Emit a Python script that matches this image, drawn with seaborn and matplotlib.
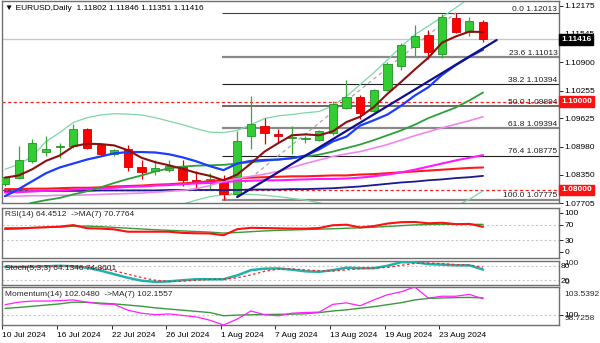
import matplotlib
matplotlib.use("Agg")
import matplotlib.pyplot as plt
import matplotlib.transforms as mtransforms
import numpy as np
import pandas as pd
import seaborn as sns

sns.set_style("white")
plt.rcParams['font.family'] = ['Liberation Sans', 'DejaVu Sans']

# ---------------- data ----------------
date_labels = ["10 Jul 2024", "16 Jul 2024", "22 Jul 2024", "26 Jul 2024", "1 Aug 2024",
               "7 Aug 2024", "13 Aug 2024", "19 Aug 2024", "23 Aug 2024"]
label_bars = [0, 4, 8, 12, 16, 20, 24, 28, 32]

opens = [1.0813, 1.0828, 1.0866, 1.0886, 1.0897, 1.0899, 1.0939, 1.0902, 1.0882, 1.0892,
         1.0853, 1.0843, 1.0845, 1.0854, 1.0822, 1.0815, 1.0824, 1.0790, 1.0922, 1.0946,
         1.0928, 1.0917, 1.0915, 1.0913, 1.0930, 1.0986, 1.1011, 1.0979, 1.1027, 1.1081,
         1.1125, 1.1152, 1.1108, 1.1189, 1.1159, 1.11802]
highs = [1.0832, 1.0899, 1.0916, 1.0922, 1.0907, 1.0950, 1.0941, 1.0905, 1.0893, 1.0901,
         1.0869, 1.0869, 1.0867, 1.0869, 1.0843, 1.0839, 1.0833, 1.0933, 1.1012, 1.0964,
         1.0939, 1.0945, 1.0922, 1.0935, 1.1001, 1.1050, 1.1015, 1.1030, 1.1089, 1.1133,
         1.1174, 1.1163, 1.1199, 1.12013, 1.1193, 1.11846]
lows = [1.0808, 1.0824, 1.0862, 1.0877, 1.0873, 1.0895, 1.0893, 1.0880, 1.0876, 1.0843,
        1.0826, 1.0835, 1.0840, 1.0809, 1.0803, 1.0802, 1.07775, 1.0784, 1.0892, 1.0905,
        1.0907, 1.0881, 1.0907, 1.0910, 1.0925, 1.0984, 1.0962, 1.0976, 1.1025, 1.1073,
        1.1104, 1.1097, 1.1100, 1.1155, 1.1150, 1.11351]
closes = [1.0829, 1.0868, 1.0907, 1.0893, 1.0899, 1.0939, 1.0896, 1.0882, 1.0890, 1.0853,
          1.0840, 1.0849, 1.0854, 1.0822, 1.0817, 1.0826, 1.0790, 1.0911, 1.0950, 1.0930,
          1.0922, 1.0920, 1.0918, 1.0933, 1.0994, 1.1010, 1.0975, 1.1027, 1.1085, 1.1129,
          1.1149, 1.1112, 1.1193, 1.1159, 1.1184, 1.11416]

ma_maroon = [1.0828, 1.0833, 1.0847, 1.0866, 1.0878, 1.0899, 1.0905, 1.0904, 1.0901, 1.0890,
             1.0873, 1.0863, 1.0856, 1.0848, 1.0839, 1.0832, 1.0822, 1.0835, 1.0860, 1.0887,
             1.0906, 1.0924, 1.0926, 1.0924, 1.0933, 1.0954, 1.0966, 1.0988, 1.1018, 1.1045,
             1.1073, 1.1100, 1.1134, 1.1148, 1.1159, 1.1158]
ma_blue = [1.0786, 1.0802, 1.0820, 1.0838, 1.0851, 1.0860, 1.0869, 1.0876, 1.0883, 1.0886,
           1.0886, 1.0885, 1.0881, 1.0874, 1.0865, 1.0854, 1.0845, 1.0860, 1.0866, 1.0868,
           1.0869, 1.0872, 1.0878, 1.0892, 1.0910, 1.0921, 1.0946, 1.0958, 1.0971, 1.0991,
           1.1014, 1.1033, 1.1061, 1.1083, 1.1102, 1.1118]
ma_green = [1.0752, 1.0762, 1.0771, 1.0777, 1.0782, 1.0790, 1.0797, 1.0806, 1.0816, 1.0825,
            1.0833, 1.0842, 1.0849, 1.0853, 1.0855, 1.0856, 1.0857, 1.0860, 1.0863, 1.0866,
            1.0869, 1.0872, 1.0876, 1.0880, 1.0887, 1.0895, 1.0903, 1.0913, 1.0924, 1.0935,
            1.0948, 1.0963, 1.0975, 1.0987, 1.1003, 1.1021]
ma_orchid = [1.0786, 1.0786, 1.0787, 1.0787, 1.0788, 1.0788, 1.0789, 1.0790, 1.0791, 1.0792,
             1.0793, 1.0795, 1.0797, 1.0799, 1.0803, 1.0810, 1.0820, 1.0826, 1.0831, 1.0836,
             1.0842, 1.0851, 1.0860, 1.0868, 1.0876, 1.0882, 1.0887, 1.0895, 1.0903, 1.0913,
             1.0923, 1.0932, 1.0941, 1.0949, 1.0957, 1.0966]
ma_magenta = [1.0794, 1.0795, 1.0797, 1.0798, 1.0799, 1.0801, 1.0802, 1.0804, 1.0805, 1.0807,
              1.0808, 1.0810, 1.0811, 1.0813, 1.0815, 1.0816, 1.0818, 1.0820, 1.0821, 1.0822,
              1.0822, 1.0823, 1.0824, 1.0825, 1.0825, 1.0826, 1.0828, 1.0831, 1.0835, 1.0840,
              1.0846, 1.0853, 1.0860, 1.0867, 1.0873, 1.0879]
ma_red = [1.0802, 1.0802, 1.0803, 1.0803, 1.0804, 1.0805, 1.0805, 1.0806, 1.0808, 1.0809,
          1.0810, 1.0812, 1.0813, 1.0815, 1.0817, 1.0820, 1.0823, 1.0827, 1.0828, 1.0829,
          1.0830, 1.0831, 1.0831, 1.0832, 1.0833, 1.0833, 1.0835, 1.0836, 1.0838, 1.0840,
          1.0842, 1.0844, 1.0846, 1.0848, 1.0850, 1.0851]
ma_navy = [1.0797, 1.0797, 1.0797, 1.0798, 1.0798, 1.0798, 1.0798, 1.0799, 1.0799, 1.0799,
           1.0799, 1.0799, 1.0800, 1.0800, 1.0800, 1.0800, 1.0800, 1.0800, 1.0801, 1.0801,
           1.0801, 1.0802, 1.0802, 1.0803, 1.0804, 1.0806, 1.0808, 1.0811, 1.0814, 1.0817,
           1.0819, 1.0822, 1.0824, 1.0827, 1.0829, 1.0832]
bb_upper = [1.0847, 1.0858, 1.0876, 1.0910, 1.0930, 1.0953, 1.0964, 1.0970, 1.0973, 1.0972,
            1.0970, 1.0964, 1.0956, 1.0948, 1.0939, 1.0931, 1.0930, 1.0935, 1.0948, 1.0962,
            1.0968, 1.0971, 1.0975, 1.0978, 1.0991, 1.1012, 1.1039, 1.1066, 1.1095, 1.1125,
            1.1152, 1.1172, 1.1192, 1.1213, 1.1235, 1.1258]
bb_lower = [1.0663, 1.0670, 1.0668, 1.0648, 1.0638, 1.0629, 1.0630, 1.0640, 1.0655, 1.0672,
            1.0688, 1.0708, 1.0728, 1.0768, 1.0777, 1.0785, 1.0789, 1.0790, 1.0790, 1.0788,
            1.0785, 1.0781, 1.0777, 1.0771, 1.0763, 1.0754, 1.0747, 1.0743, 1.0741, 1.0743,
            1.0747, 1.0750, 1.0752, 1.0763, 1.0779, 1.0798]

trend_x = [17.0, 36.0]
trend_y = [1.0784, 1.1140]

fib_low_bar, fib_high_bar = 16, 33
fib_low, fib_high = 1.07775, 1.12013
fib_levels = ["0.0", "23.6", "38.2", "50.0", "61.8", "76.4", "100.0"]
fib_prices = [1.12013, 1.11013, 1.10394, 1.09894, 1.09394, 1.08775, 1.07775]

price_ticks = [1.12175, 1.11545, 1.10900, 1.10255, 1.09625, 1.08980, 1.08350, 1.07705]
h_levels = [1.10000, 1.08000]
last_price = 1.11416

rsi = [59.0, 60.0, 62.0, 63.5, 65.0, 69.0, 61.0, 60.0, 58.0, 52.0, 52.0, 52.0, 52.0, 49.0,
       48.0, 47.5, 43.0, 58.5, 62.0, 61.4, 60.7, 60.0, 60.0, 61.4, 68.6, 70.0, 63.0, 66.4,
       72.9, 76.4, 77.0, 73.6, 75.0, 71.4, 72.0, 64.45]
rsi_ma = [62.0, 62.0, 62.5, 63.0, 64.0, 66.0, 66.5, 65.0, 63.0, 61.0, 59.0, 57.0, 55.5, 54.0,
          52.5, 51.0, 48.5, 50.0, 52.0, 54.0, 55.5, 56.5, 57.5, 58.5, 59.5, 61.0, 62.0, 63.5,
          65.5, 67.5, 69.5, 70.5, 71.0, 71.0, 71.0, 70.78]
stoch_k = [76, 76, 76, 78, 80, 78, 72, 60, 45, 30, 18, 13, 15, 20, 24, 24, 24, 40, 62, 68,
           69, 64, 57, 55, 62, 72, 70, 70, 80, 95, 95, 87, 85, 82, 82, 64.13]
stoch_d = [75, 76, 77, 78, 78, 78, 76, 70, 59, 45, 31, 20, 15, 16, 20, 23, 24, 30, 42, 57,
           66, 67, 63, 59, 58, 63, 68, 71, 73, 82, 90, 92, 89, 85, 83, 74.86]
mom = [101.30, 101.62, 101.76, 101.76, 101.81, 101.90, 101.62, 101.39, 101.34, 100.60,
       100.22, 100.03, 100.13, 99.94, 99.75, 99.33, 98.73, 99.47, 100.50, 100.03, 99.89,
       100.22, 100.31, 100.36, 101.34, 101.53, 101.16, 101.90, 102.56, 102.93, 103.54,
       102.14, 102.37, 102.37, 102.60, 102.05]
mom_ma = [100.83, 100.95, 101.10, 101.25, 101.40, 101.62, 101.60, 101.50, 101.40, 101.25,
          101.10, 100.90, 100.75, 100.60, 100.45, 100.30, 99.90, 99.98, 100.02, 100.05,
          100.08, 100.10, 100.15, 100.30, 100.50, 100.65, 100.85, 101.05, 101.30, 101.55,
          101.90, 102.10, 102.15, 102.20, 102.22, 102.16]

df = pd.DataFrame({
    "bar": np.arange(len(closes)), "open": opens, "high": highs, "low": lows, "close": closes,
    "maroon": ma_maroon, "blue": ma_blue, "green": ma_green, "orchid": ma_orchid,
    "magenta": ma_magenta, "red": ma_red, "navy": ma_navy, "bbu": bb_upper, "bbl": bb_lower,
    "rsi": rsi, "rsi_ma": rsi_ma, "k": stoch_k, "d": stoch_d, "mom": mom, "mom_ma": mom_ma,
})

# ---------------- layout ----------------
W, H = 600, 343
FS = 6
fig = plt.figure(figsize=(W / 100, H / 100), dpi=100)
fig.patch.set_facecolor("white")


def panel(top, bottom, left=2, right=559):
    a = fig.add_axes([left / W, 1 - bottom / H, (right - left) / W, (bottom - top) / H])
    a.set_facecolor("white")
    for s in a.spines.values():
        s.set_color("#707070")
        s.set_linewidth(1.0)
    a.set_xlim(-0.22, 40.56)
    a.set_xticks([])
    a.yaxis.tick_right()
    a.tick_params(axis="y", direction="out", length=3, width=0.6, pad=1,
                  labelsize=FS, colors="black")
    a.set_xlabel("")
    a.set_ylabel("")
    return a


ax = panel(1, 203)
ax_rsi = panel(208, 258)
ax_st = panel(261, 285)
ax_mo = panel(287, 325)

# ---------------- main chart ----------------
ax.set_ylim(1.07723, 1.12284)
ytr = mtransforms.blended_transform_factory(ax.transAxes, ax.transData)

# horizontal dashed levels and bid line
for lv in h_levels:
    ax.axhline(lv, color="#ff2020", lw=0.9, ls=(0, (2.5, 2)), zorder=1)
ax.axhline(last_price, color="#c8c8c8", lw=1.0, zorder=1)

# fib retracement
fib_styles = [("#404040", 0.8), ("#8a8a8a", 1.6), ("#202020", 0.8), ("#6a6a6a", 1.4),
              ("#8a8a8a", 1.6), ("#202020", 0.8), ("#8a8a8a", 1.6)]
for lvl, pr, (c, w) in zip(fib_levels, fib_prices, fib_styles):
    ax.hlines(pr, fib_low_bar - 0.1, 40.56, color=c, lw=w, zorder=1.5)
    ax.text(0.997, pr + 0.0001, f"{lvl} {pr:.5f}", transform=ytr, ha="right", va="bottom",
            fontsize=FS, color="#202020", zorder=6)
ax.plot([fib_low_bar, fib_high_bar], [fib_low, fib_high], color="#a8a8a8", lw=0.9,
        ls=(0, (3, 2.5)), zorder=1.6)

# Bollinger bands
sns.lineplot(data=df, x="bar", y="bbu", ax=ax, color="#7fd6a6", lw=0.9, zorder=2, legend=False)
sns.lineplot(data=df, x="bar", y="bbl", ax=ax, color="#7fd6a6", lw=0.9, zorder=2, legend=False)

# candles
for r in df.itertuples():
    bull = r.close >= r.open
    wick_c = "#2fae2f" if bull else "#e00000"
    face = "#33cc33" if bull else "#ff0000"
    edge = "#22922a" if bull else "#d40000"
    ax.vlines(r.bar, r.low, r.high, color=wick_c, lw=0.9, zorder=3)
    body_lo = min(r.open, r.close)
    body_h = max(abs(r.close - r.open), 0.00008)
    ax.bar(r.bar, body_h, bottom=body_lo, width=0.6, color=face, edgecolor=edge,
           linewidth=0.6, zorder=3.2)

# moving averages
sns.lineplot(data=df, x="bar", y="navy", ax=ax, color="#1a1a8c", lw=1.3, zorder=4, legend=False)
sns.lineplot(data=df, x="bar", y="red", ax=ax, color="#ff1a1a", lw=1.5, zorder=4, legend=False)
sns.lineplot(data=df, x="bar", y="magenta", ax=ax, color="#ff1aff", lw=1.5, zorder=4, legend=False)
sns.lineplot(data=df, x="bar", y="orchid", ax=ax, color="#ee88ee", lw=1.2, zorder=4, legend=False)
sns.lineplot(data=df, x="bar", y="green", ax=ax, color="#2e9e3a", lw=1.3, zorder=4, legend=False)
sns.lineplot(data=df, x="bar", y="blue", ax=ax, color="#1c3cff", lw=1.6, zorder=4.2, legend=False)
sns.lineplot(data=df, x="bar", y="maroon", ax=ax, color="#8b1010", lw=1.5, zorder=4.3, legend=False)
ax.plot(trend_x, trend_y, color="#10108a", lw=1.6, zorder=4.4)

ax.set_yticks(price_ticks)
ax.set_yticklabels([f"{p:.5f}" for p in price_ticks])
ax.set_xlabel("")
ax.set_ylabel("")

# price boxes
box_kw = dict(transform=ytr, ha="left", va="center", fontsize=FS, color="white",
              clip_on=False, zorder=10, fontweight="bold")
ax.text(1.004, last_price, f"{last_price:.5f}",
        bbox=dict(boxstyle="square,pad=0.22", fc="black", ec="black"), **box_kw)
for lv in h_levels:
    ax.text(1.004, lv, f"{lv:.5f}",
            bbox=dict(boxstyle="square,pad=0.22", fc="#ff1010", ec="#ff1010"), **box_kw)

fig.text(5 / W, 1 - 8 / H, "\u25BC EURUSD,Daily  1.11802 1.11846 1.11351 1.11416",
         fontsize=FS, va="center", ha="left", color="black",
         family=["Liberation Sans", "DejaVu Sans"])

# ---------------- RSI ----------------
ax_rsi.set_ylim(-15.4, 112.8)
for lv in (70, 30):
    ax_rsi.axhline(lv, color="#c8c8c8", lw=0.8, ls=(0, (2, 2)), zorder=1)
sns.lineplot(data=df, x="bar", y="rsi_ma", ax=ax_rsi, color="#3a9a3a", lw=1.0, zorder=3, legend=False)
sns.lineplot(data=df, x="bar", y="rsi", ax=ax_rsi, color="#ff1010", lw=1.5, zorder=4, legend=False)
ax_rsi.set_yticks([100, 70, 30, 0])
ax_rsi.set_yticklabels(["100", "70", "30", "0"])
ax_rsi.set_xlabel("")
ax_rsi.set_ylabel("")
fig.text(5 / W, 1 - 215 / H, "RSI(14) 64.4512  ->MA(7) 70.7764", fontsize=FS, va="center")

# ---------------- Stochastic ----------------
ax_st.set_ylim(0, 100)
for lv in (80, 20):
    ax_st.axhline(lv, color="#c8c8c8", lw=0.8, ls=(0, (2, 2)), zorder=1)
sns.lineplot(data=df, x="bar", y="k", ax=ax_st, color="#20b2aa", lw=1.8, zorder=3, legend=False)
sns.lineplot(data=df, x="bar", y="d", ax=ax_st, color="#ff2020", lw=0.9, ls=(0, (2, 2)),
             zorder=4, legend=False)
ax_st.set_yticks([80, 20])
ax_st.set_yticklabels(["80", "20"])
ax_st.tick_params(axis="y", length=0)
str_ = mtransforms.blended_transform_factory(ax_st.transAxes, ax_st.transData)
ax_st.text(1.01, 88, "100", transform=str_, fontsize=FS, va="center", ha="left", clip_on=False)
ax_st.text(1.01, 12, "0", transform=str_, fontsize=FS, va="center", ha="left", clip_on=False)
ax_st.set_xlabel("")
ax_st.set_ylabel("")
fig.text(5 / W, 1 - 268 / H, "Stoch(5,3,3) 64.1346 74.8601", fontsize=FS, va="center")

# ---------------- Momentum ----------------
ax_mo.set_ylim(98.7258, 103.5392)
ax_mo.axhline(100, color="#c8c8c8", lw=0.8, ls=(0, (2, 2)), zorder=1)
sns.lineplot(data=df, x="bar", y="mom_ma", ax=ax_mo, color="#3a9a3a", lw=1.0, zorder=3, legend=False)
sns.lineplot(data=df, x="bar", y="mom", ax=ax_mo, color="#ff20ff", lw=0.9, zorder=4, legend=False)
ax_mo.set_yticks([100])
ax_mo.set_yticklabels(["100"])
mtr = mtransforms.blended_transform_factory(ax_mo.transAxes, ax_mo.transData)
ax_mo.text(1.01, 102.65, "103.5392", transform=mtr, fontsize=FS, va="center", ha="left", clip_on=False)
ax_mo.text(1.01, 99.55, "98.7258", transform=mtr, fontsize=FS, va="center", ha="left", clip_on=False)
ax_mo.set_xticks([b - 0.2 for b in label_bars])
ax_mo.set_xticklabels(date_labels, ha="left")
ax_mo.tick_params(axis="x", direction="out", length=3, width=0.6, pad=2, labelsize=FS,
                  colors="black", bottom=True)
ax_mo.set_xlabel("")
ax_mo.set_ylabel("")
fig.text(5 / W, 1 - 295 / H, "Momentum(14) 102.0480  ->MA(7) 102.1557", fontsize=FS, va="center")

fig.savefig("out.png", dpi=100, facecolor="white")
